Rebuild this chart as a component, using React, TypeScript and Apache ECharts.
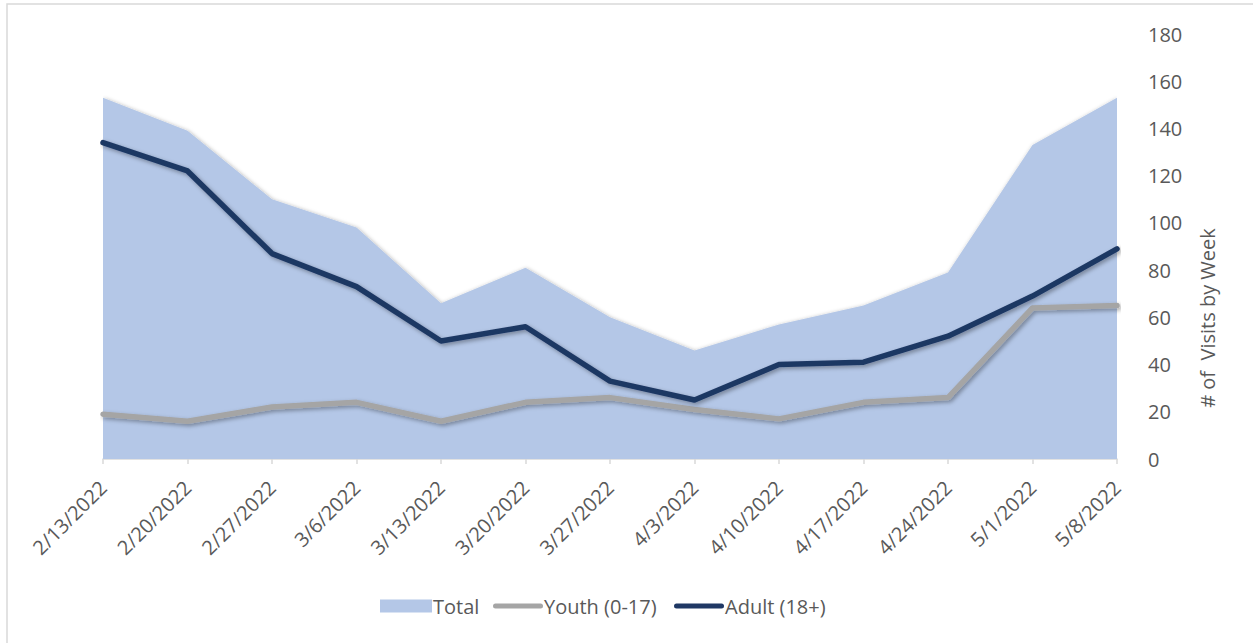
import React, { useEffect, useRef } from "react";
import * as echarts from "echarts";

const categories = [
  "2/13/2022", "2/20/2022", "2/27/2022", "3/6/2022", "3/13/2022", "3/20/2022", "3/27/2022",
  "4/3/2022", "4/10/2022", "4/17/2022", "4/24/2022", "5/1/2022", "5/8/2022",
];
const totalValues = [153, 139, 110, 98, 66, 81, 60, 46, 57, 65, 79, 133, 153];
const youthValues = [19, 16, 22, 24, 16, 24, 26, 21, 17, 24, 26, 64, 65];
const adultValues = [134, 122, 87, 73, 50, 56, 33, 25, 40, 41, 52, 69, 89];
const yTicks = { min: 0, max: 180, interval: 20 };
const yAxisTitle = "# of  Visits by Week";
const seriesNames = ["Total", "Youth (0-17)", "Adult (18+)"];

const FONT = "'Open Sans', 'Liberation Sans', sans-serif";
const LINE_ICON = "path://M2.5,0 L47.5,0 A2.5,2.5 0 0 1 47.5,5 L2.5,5 A2.5,2.5 0 0 1 2.5,0 Z";

export default function App() {
  const ref = useRef<HTMLDivElement>(null);
  useEffect(() => {
    if (!ref.current) return;
    const chart = echarts.init(ref.current, undefined, { renderer: "svg" });
    const shadow = {
      shadowColor: "rgba(0,0,0,0.35)",
      shadowBlur: 4,
      shadowOffsetX: 2,
      shadowOffsetY: 2,
    };
    const legendText = { color: "#595959", fontSize: 20, fontFamily: FONT, padding: [0, 0, 0, -4] };
    const legendLefts = [380, 493, 674];
    chart.setOption({
      animation: false,
      backgroundColor: "#fff",
      grid: { left: 103, right: 136, top: 34, bottom: 184, containLabel: false },
      legend: seriesNames.map((name, i) => ({
        top: 596,
        left: legendLefts[i],
        padding: 0,
        itemWidth: i === 0 ? 52 : 50,
        itemHeight: i === 0 ? 13 : 5,
        textStyle: legendText,
        data: [{ name, icon: i === 0 ? "rect" : LINE_ICON }],
      })),
      xAxis: {
        type: "category",
        data: categories,
        boundaryGap: false,
        axisLine: { lineStyle: { color: "#D9D9D9", width: 1.5 } },
        axisTick: { show: true, length: 5, lineStyle: { color: "#D9D9D9", width: 1.5 } },
        axisLabel: {
          rotate: 45,
          interval: 0,
          color: "#595959",
          fontSize: 20,
          fontFamily: FONT,
          margin: 25,
        },
        splitLine: { show: false },
      },
      yAxis: {
        type: "value",
        position: "right",
        min: yTicks.min,
        max: yTicks.max,
        interval: yTicks.interval,
        axisLine: { show: false },
        axisTick: { show: false },
        splitLine: { show: false },
        axisLabel: { color: "#595959", fontSize: 20, fontFamily: FONT, margin: 31 },
      },
      graphic: [
        {
          type: "rect",
          shape: { x: 7, y: 4, width: 1260, height: 660 },
          style: { fill: "none", stroke: "#D9D9D9", lineWidth: 1.5 },
          z: -1,
        },
        {
          type: "text",
          x: 1207,
          y: 318,
          rotation: Math.PI / 2,
          style: {
            text: yAxisTitle,
            fill: "#595959",
            fontSize: 20,
            fontFamily: FONT,
            align: "center",
            verticalAlign: "middle",
          },
        },
      ],
      series: [
        {
          name: seriesNames[0],
          type: "line",
          data: totalValues,
          symbol: "none",
          lineStyle: { width: 0 },
          itemStyle: { color: "#B4C7E7" },
          areaStyle: { color: "#B4C7E7", opacity: 1, ...shadow, shadowOffsetX: 1, shadowOffsetY: 1 },
          z: 1,
        },
        {
          name: seriesNames[1],
          type: "line",
          data: youthValues,
          symbol: "none",
          itemStyle: { color: "#A5A5A5" },
          lineStyle: { color: "#A5A5A5", width: 5.5, cap: "round", join: "round", ...shadow },
          z: 2,
        },
        {
          name: seriesNames[2],
          type: "line",
          data: adultValues,
          symbol: "none",
          itemStyle: { color: "#1F3864" },
          lineStyle: { color: "#1F3864", width: 5.5, cap: "round", join: "round", ...shadow },
          z: 3,
        },
      ],
    });
    return () => chart.dispose();
  }, []);
  return (
    <div
      ref={ref}
      style={{ position: "fixed", left: 0, top: 0, width: 1253, height: 643 }}
    />
  );
}
